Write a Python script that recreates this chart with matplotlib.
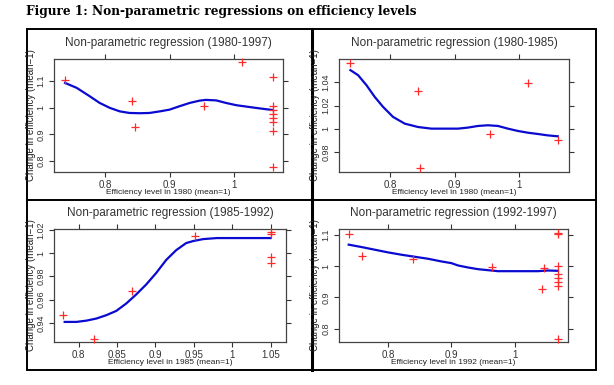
import matplotlib
matplotlib.use("Agg")
import matplotlib.pyplot as plt
from matplotlib.lines import Line2D
from matplotlib.patches import Rectangle
from matplotlib.ticker import FormatStrFormatter

W, H = 614, 385

# ---- data ----
titles = ["Non-parametric regression (1980-1997)", "Non-parametric regression (1980-1985)",
          "Non-parametric regression (1985-1992)", "Non-parametric regression (1992-1997)"]
xlabels = ["Efficiency level in 1980 (mean=1)", "Efficiency level in 1980 (mean=1)",
           "Efficiency level in 1985 (mean=1)", "Efficiency level in 1992 (mean=1)"]

# panel 1: 1980-1997
p1_x = [0.7385, 0.842, 0.846, 0.953, 1.012, 1.059, 1.059, 1.059, 1.059, 1.059, 1.059, 1.059, 1.059]
p1_y = [1.104, 1.025, 0.929, 1.005, 1.169, 1.114, 1.0075, 0.9925, 0.9775, 0.9625, 0.946, 0.911, 0.776]
p1_cx = [0.7385, 0.7565, 0.777, 0.792, 0.8077, 0.823, 0.838, 0.854, 0.869, 0.885, 0.9, 0.915,
         0.931, 0.946, 0.956, 0.972, 0.987, 1.003, 1.018, 1.033, 1.049, 1.059]
p1_cy = [1.0925, 1.074, 1.042, 1.0175, 0.999, 0.986, 0.980, 0.979, 0.980, 0.986, 0.9925, 1.005,
         1.0175, 1.026, 1.029, 1.027, 1.0175, 1.009, 1.004, 0.999, 0.994, 0.991]

# panel 2: 1980-1985
p2_x = [0.7378, 0.8425, 0.8466, 0.955, 1.014, 1.0606]
p2_y = [1.0567, 1.0328, 0.9666, 0.9954, 1.0397, 0.9908]
p2_cx = [0.7378, 0.7497, 0.7627, 0.7756, 0.7886, 0.8041, 0.8223, 0.843, 0.8637, 0.8845, 0.9052,
         0.9207, 0.9363, 0.9518, 0.9674, 0.9829, 0.9984, 1.014, 1.0295, 1.045, 1.0606]
p2_cy = [1.0506, 1.0463, 1.0377, 1.0276, 1.019, 1.0104, 1.0046, 1.0017, 1.0003, 1.0003, 1.0003,
         1.0012, 1.0026, 1.0032, 1.0026, 1.0003, 0.9983, 0.9968, 0.9957, 0.9945, 0.9937]

# panel 3: 1985-1992
p3_x = [0.7796, 0.8204, 0.87, 0.9513, 1.05, 1.05, 1.05, 1.05]
p3_y = [0.9471, 0.9263, 0.9674, 1.0147, 1.0179, 1.0165, 0.9965, 0.9919]
p3_cx = [0.7817, 0.797, 0.81, 0.823, 0.836, 0.849, 0.862, 0.875, 0.888, 0.901, 0.914, 0.927,
         0.940, 0.949, 0.962, 0.98, 1.001, 1.023, 1.05]
p3_cy = [0.9408, 0.9408, 0.9419, 0.9437, 0.9466, 0.9503, 0.9567, 0.9645, 0.9731, 0.983, 0.9942,
         1.0026, 1.0087, 1.0104, 1.0121, 1.013, 1.013, 1.013, 1.013]

# panel 4: 1992-1997
p4_x = [0.7379, 0.759, 0.8395, 0.9637, 1.0432, 1.0463, 1.0684, 1.0684, 1.0684, 1.0684, 1.0684,
        1.0684, 1.0684, 1.0684]
p4_y = [1.1032, 1.0323, 1.0237, 0.9957, 0.9258, 0.9925, 1.1065, 1.1032, 0.9989, 0.9753, 0.9624,
        0.9505, 0.9366, 0.7677]
p4_cx = [0.7379, 0.7579, 0.7789, 0.8, 0.8211, 0.8421, 0.8632, 0.8842, 0.9, 0.9105, 0.9263,
         0.9421, 0.9579, 0.9737, 0.9947, 1.0158, 1.0368, 1.0526, 1.0684]
p4_cy = [1.0688, 1.0613, 1.0527, 1.0441, 1.0366, 1.0301, 1.0237, 1.0151, 1.0097, 1.0022, 0.9957,
         0.9903, 0.9871, 0.9839, 0.9839, 0.9839, 0.9839, 0.986, 0.985]

xlims = [(0.7215, 1.075), (0.72, 1.078), (0.7678, 1.07), (0.7226, 1.0842)]
ylims = [(0.759, 1.182), (0.963, 1.0602), (0.9235, 1.0208), (0.757, 1.119)]
xticks = [[0.8, 0.9, 1], [0.8, 0.9, 1], [0.8, 0.85, 0.9, 0.95, 1, 1.05], [0.8, 0.9, 1]]
yticks = [[0.8, 0.9, 1, 1.1], [0.98, 1, 1.02, 1.04], [0.94, 0.96, 0.98, 1, 1.02], [0.8, 0.9, 1, 1.1]]

pts = [(p1_x, p1_y), (p2_x, p2_y), (p3_x, p3_y), (p4_x, p4_y)]
curves = [(p1_cx, p1_cy), (p2_cx, p2_cy), (p3_cx, p3_cy), (p4_cx, p4_cy)]

# axes boxes in pixels: left, top, right, bottom
boxes = [(54, 59, 283, 172), (339, 59, 569, 172), (54, 229, 286, 342), (339, 229, 568, 342)]
# panel frames in pixels
frames = [(27, 29, 311, 200), (311, 29, 596, 200), (27, 200, 311, 370), (311, 200, 596, 370)]

plt.rcParams['font.family'] = ['Liberation Sans', 'DejaVu Sans']


def px_rect(l, t, r, b):
    return [l / W, 1 - b / H, (r - l) / W, (b - t) / H]


fig = plt.figure(figsize=(W / 100, H / 100), dpi=100)
fig.patch.set_facecolor('white')

fig.text(26 / W, 1 - 12 / H, "Figure 1: Non-parametric regressions on efficiency levels",
         family='DejaVu Serif', weight='bold', fontsize=8.7, va='center', ha='left')

fig.add_artist(Rectangle((27 / W, 1 - 370 / H), (596 - 27) / W, (370 - 29) / H,
                         transform=fig.transFigure, fill=False, ec='black', lw=1.4))
fig.add_artist(Line2D([311.5 / W, 311.5 / W], [1 - 29 / H, 1 - 370 / H], transform=fig.transFigure,
                      color='black', lw=2.2))
fig.add_artist(Line2D([27 / W, 596 / W], [1 - 200 / H, 1 - 200 / H], transform=fig.transFigure,
                      color='black', lw=1.4))

for i in range(4):
    l, t, r, b = boxes[i]
    ax = fig.add_axes(px_rect(l, t, r, b))
    ax.plot(curves[i][0], curves[i][1], color='#0a0ad0', lw=1.6, zorder=2)
    ax.plot(pts[i][0], pts[i][1], '+', color='#ff2a2a', ms=5.5, mew=0.9, zorder=3, clip_on=False)
    ax.set_xlim(*xlims[i])
    ax.set_ylim(*ylims[i])
    ax.set_xticks(xticks[i])
    ax.set_yticks(yticks[i])
    ax.xaxis.set_major_formatter(FormatStrFormatter('%g'))
    ax.yaxis.set_major_formatter(FormatStrFormatter('%g'))
    ax.tick_params(direction='out', length=3.5, width=0.8, top=True, right=True, labelsize=7,
                   colors='#333333', pad=2)
    ax.tick_params(axis='y', labelsize=6.5, pad=2.5)
    for lab in ax.get_yticklabels():
        lab.set_rotation(90)
        lab.set_va('center')
    for s in ax.spines.values():
        s.set_color('#444444')
        s.set_linewidth(0.9)
    fl, ft, fr, fb = frames[i]
    cx = (l + r) / 2
    fig.text(cx / W, 1 - (t - 16) / H, titles[i], fontsize=8.5, color='#333333',
             ha='center', va='center')
    fig.text(cx / W, 1 - (b + 21) / H, xlabels[i], fontsize=6, color='#222222',
             ha='center', va='center')
    fig.text((fl + 4.5) / W, 1 - (t + b) / 2 / H, "Change in efficiency (mean=1)", fontsize=7,
             color='#222222', rotation=90, ha='center', va='center')

fig.savefig("out.png", dpi=100)
